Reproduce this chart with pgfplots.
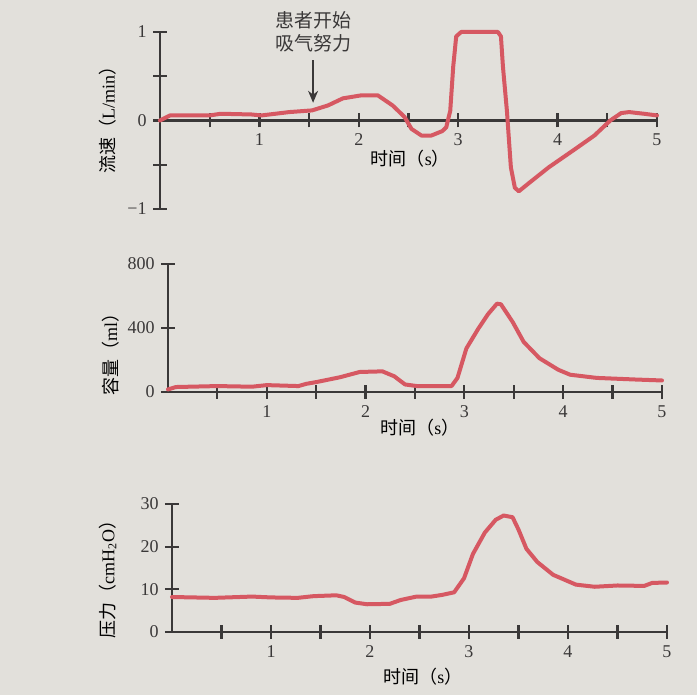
\documentclass[border=0pt]{standalone}
\usepackage{pgfplots}
\pgfplotsset{compat=1.18}
\usetikzlibrary{arrows.meta}
\usepackage{fontspec}
\setmainfont{Liberation Serif}
\newfontfamily\cjk{Noto Sans CJK SC}
\definecolor{paper}{RGB}{226,224,219}
\definecolor{curve}{RGB}{214,88,98}
\definecolor{axc}{RGB}{58,56,56}

\pgfplotstableread{
t v
0 0
0.1 0.057
0.5 0.057
0.61 0.076
0.92 0.068
1.02 0.057
1.3 0.095
1.53 0.114
1.69 0.17
1.84 0.25
2.03 0.285
2.19 0.285
2.34 0.17
2.46 0.04
2.53 -0.095
2.63 -0.17
2.73 -0.17
2.84 -0.12
2.88 -0.076
2.92 0.11
2.95 0.61
2.98 0.95
3.03 1.0
3.40 1.0
3.43 0.95
3.45 0.61
3.49 0.11
3.53 -0.53
3.57 -0.76
3.61 -0.8
3.72 -0.70
3.91 -0.53
4.18 -0.32
4.37 -0.17
4.53 0
4.64 0.084
4.72 0.095
4.87 0.076
5.0 0.057
}\flowdata

\pgfplotstableread{
t v
0 16
0.08 31
0.5 37
0.85 33
1.0 43
1.32 37
1.4 51
1.51 63
1.74 92
1.94 125
2.17 129
2.29 98
2.4 47
2.52 37
2.87 37
2.93 88
3.02 272
3.14 395
3.24 487
3.33 552
3.37 548
3.49 436
3.6 313
3.76 211
3.95 139
4.07 108
4.34 88
4.73 78
5.0 72
}\voldata

\pgfplotstableread{
t v
0 8.2
0.43 8.0
0.81 8.3
1.0 8.1
1.27 8.0
1.43 8.4
1.66 8.6
1.74 8.2
1.85 6.9
1.97 6.5
2.2 6.6
2.31 7.5
2.47 8.3
2.62 8.3
2.73 8.7
2.85 9.3
2.95 12.6
3.04 18.3
3.16 23.3
3.27 26.3
3.35 27.3
3.44 26.9
3.5 24.0
3.58 19.5
3.69 16.4
3.85 13.4
4.08 11.1
4.27 10.6
4.5 10.9
4.77 10.8
4.85 11.5
5.0 11.6
}\presdata

\pgfplotsset{
  common/.style={
    scale only axis, clip=false,
    xmin=0, xmax=5,
    axis line style={draw=axc, line width=1.2pt},
    every tick/.style={draw=axc, line width=1.1pt},
    tick align=center, major tick length=7pt,
    xtick={0.5,1,...,5}, xticklabels={,1,,2,,3,,4,,5},
    hide obscured x ticks=false, hide obscured y ticks=false,
    /pgf/number format/assume math mode=true,
    tick label style={font=\fontsize{9}{10}\selectfont, text=axc},
    label style={font=\fontsize{9}{10}\selectfont, text=axc},
    xlabel={{\cjk 时间（}s{\cjk ）}},
  },
  redline/.style={draw=curve, line width=2pt, line join=round, line cap=round, no marks},
}

\begin{document}
\fontsize{9}{11}\selectfont
\begin{tikzpicture}
\fill[paper] (0pt,0pt) rectangle (348.5pt,347.5pt);
\useasboundingbox (0pt,0pt) rectangle (348.5pt,347.5pt);

% top: flow
\begin{axis}[common, at={(80pt,243pt)}, anchor=south west,
  width=248.5pt, height=88.5pt,
  axis lines*=middle, ymin=-1, ymax=1,
  ytick={-1,-0.5,0,0.5,1}, yticklabels={−1,,0,,1},
  every axis x label/.style={at={(axis description cs:0.504,0.285)}, anchor=center},
  every axis y label/.style={at={(axis description cs:-0.105,0.53)}, rotate=90, anchor=center},
  ylabel={{\cjk 流速（}L/min{\cjk ）}},
]
\addplot[redline] table[x=t,y=v] {\flowdata};
\node[align=center, font=\fontsize{9.5}{11.5}\cjk, text=axc] at (axis cs:1.54,1.006) {患者开始\\吸气努力};
\draw[axc, line width=0.9pt, -{Stealth[length=6pt,width=5pt]}] (axis cs:1.54,0.68) -- (axis cs:1.54,0.2);
\end{axis}

% middle: volume
\begin{axis}[common, at={(84pt,151.5pt)}, anchor=south west,
  width=247pt, height=64pt,
  axis lines*=left, ymin=0, ymax=800,
  ytick={0,400,800},
  every axis x label/.style={at={(axis description cs:0.51,-0.281)}, anchor=center},
  every axis y label/.style={at={(axis description cs:-0.117,0.33)}, rotate=90, anchor=center},
  ylabel={{\cjk 容量（}ml{\cjk ）}},
]
\addplot[redline] table[x=t,y=v] {\voldata};
\end{axis}

% bottom: pressure
\begin{axis}[common, at={(86pt,31.5pt)}, anchor=south west,
  width=247.5pt, height=64pt,
  axis lines*=left, ymin=0, ymax=30,
  ytick={0,10,20,30},
  every axis x label/.style={at={(axis description cs:0.507,-0.35)}, anchor=center},
  every axis y label/.style={at={(axis description cs:-0.13,0.445)}, rotate=90, anchor=center},
  ylabel={{\cjk 压力（}cmH\textsubscript{2}O{\cjk ）}},
]
\addplot[redline] table[x=t,y=v] {\presdata};
\end{axis}
\end{tikzpicture}
\end{document}
